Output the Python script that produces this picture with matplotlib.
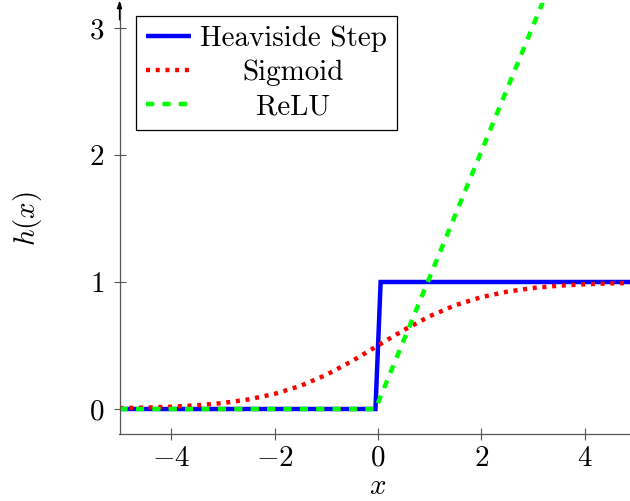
import matplotlib
matplotlib.use("Agg")
import matplotlib.pyplot as plt

plt.rcParams['font.family'] = 'serif'
plt.rcParams['font.serif'] = ['cmr10']
plt.rcParams['mathtext.fontset'] = 'cm'
plt.rcParams['axes.formatter.use_mathtext'] = True
plt.rcParams['lines.scale_dashes'] = False

# data
step_x = [-5.0, -0.05, 0.05, 5.0]
step_y = [0.0, 0.0, 1.0, 1.0]

sig_x = [-5.0, -4.5, -4.0, -3.5, -3.0, -2.5, -2.0, -1.5, -1.0, -0.5, 0.0,
         0.5, 1.0, 1.5, 2.0, 2.5, 3.0, 3.5, 4.0, 4.5, 5.0]
sig_y = [0.007, 0.011, 0.018, 0.029, 0.047, 0.076, 0.119, 0.182, 0.269, 0.378, 0.500,
         0.622, 0.731, 0.818, 0.881, 0.924, 0.953, 0.971, 0.982, 0.989, 0.993]

relu_x = [-5.0, -0.05, 5.0]
relu_y = [0.0, 0.0, 5.0]

x_ticks = [-4, -2, 0, 2, 4]
x_tick_labels = [r'$-4$', r'$-2$', r'$0$', r'$2$', r'$4$']
y_ticks = [0, 1, 2, 3]
y_tick_labels = [r'$0$', r'$1$', r'$2$', r'$3$']

labels = ['Heaviside Step', 'Sigmoid', 'ReLU']

W, H = 630, 501
fig = plt.figure(figsize=(W / 100, H / 100), dpi=100)
left_px, right_px, bottom_px, top_px = 119.5, 636.6, 434.4, 2.6
ax = fig.add_axes([left_px / W, (H - bottom_px) / H,
                   (right_px - left_px) / W, (bottom_px - top_px) / H])

lw = 3.2
ax.plot(step_x, step_y, color='#0000ff', lw=lw, solid_capstyle='butt',
        solid_joinstyle='miter', label=labels[0])
ax.plot(sig_x, sig_y, color='#ff0000', lw=lw, linestyle=(0, (2.9, 4.1)),
        dash_capstyle='butt', label=labels[1])
ax.plot(relu_x, relu_y, color='#00ff00', lw=lw, linestyle=(0, (5.9, 5.9)),
        dash_capstyle='butt', label=labels[2])

ax.set_xlim(-5, 5)
ax.set_ylim(-0.2, 3.2)

fs = 20.9
ax.set_xticks(x_ticks)
ax.set_xticklabels(x_tick_labels, fontsize=fs)
ax.set_yticks(y_ticks)
ax.set_yticklabels(y_tick_labels, fontsize=fs)

spine_col = '#555555'
for s in ['top', 'right']:
    ax.spines[s].set_visible(False)
for s in ['left', 'bottom']:
    ax.spines[s].set_color(spine_col)
    ax.spines[s].set_linewidth(0.9)
ax.tick_params(axis='both', direction='inout', length=8, width=0.8, color=spine_col)
ax.tick_params(axis='y', pad=7)
ax.tick_params(axis='x', pad=4)

ax.annotate('', xy=(0, 1.005), xytext=(0, 0.96), xycoords='axes fraction',
            arrowprops=dict(arrowstyle='-|>,head_length=0.45,head_width=0.15',
                            color='black', lw=0.9, shrinkA=0, shrinkB=0))

ax.set_xlabel(r'$x$', fontsize=fs, labelpad=1)
ax.set_ylabel(r'$h(x)$', fontsize=fs, labelpad=32)

leg = ax.legend(loc='upper left', bbox_to_anchor=(0.0319, 0.97), borderaxespad=0,
                fontsize=fs, frameon=True, fancybox=False, edgecolor='black',
                framealpha=1, handlelength=1.55, handletextpad=0.3,
                labelspacing=0.26, borderpad=0.35)
leg.get_frame().set_linewidth(0.9)

# center legend texts within the text column (as in the reference)
fig.canvas.draw()
texts = leg.get_texts()
widths = [t.get_window_extent().width for t in texts]
maxw = max(widths)
for t, w in zip(texts, widths):
    t.set_x((maxw - w) / 2)

fig.savefig('out.png', dpi=100)
